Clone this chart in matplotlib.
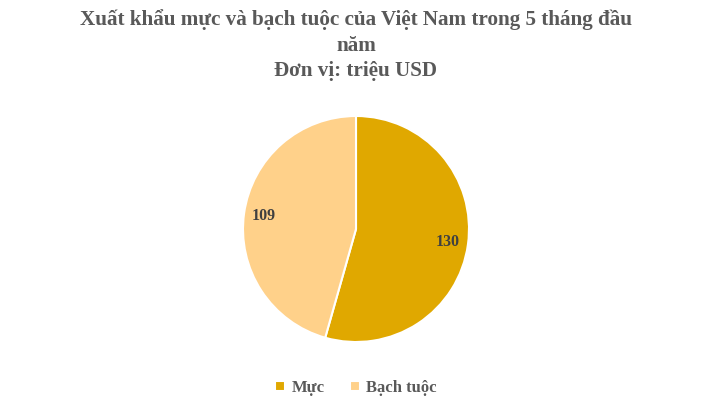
import matplotlib.pyplot as plt

categories = ["Mực", "Bạch tuộc"]
values = [130, 109]
colors = ["#E0A800", "#FFD18A"]
title = "Xuất khẩu mực và bạch tuộc của Việt Nam trong 5 tháng đầu\nnăm\nĐơn vị: triệu USD"

plt.rcParams["font.family"] = ["Liberation Serif", "DejaVu Serif"]
gray = "#595959"

fig = plt.figure(figsize=(7.12, 4.04), dpi=100)

# pie axes: center (356, 229), radius ~113 px
r = 113
cx, cy = 356, 229
pax = fig.add_axes([(cx - r) / 712, 1 - (cy + r) / 404, 2 * r / 712, 2 * r / 404])
wedges, texts = pax.pie(values, colors=colors, startangle=90, counterclock=False,
                        labels=[str(v) for v in values], labeldistance=0.82,
                        wedgeprops=dict(edgecolor="white", linewidth=1.5),
                        textprops=dict(fontsize=11.5, fontweight="bold", color="#404040"))
for t in texts:
    t.set_ha("center")
    t.set_va("center")
pax.set_xlim(-1, 1)
pax.set_ylim(-1, 1)
pax.set_aspect("equal")

fig.text(0.5, 1 - 9 / 404, title, ha="center", va="top", fontsize=15.2,
         fontweight="bold", color=gray, linespacing=1.38)

leg = fig.legend(wedges, categories, loc="center", bbox_to_anchor=(0.5, 1 - 388 / 404),
                 ncol=2, frameon=False, handlelength=0.6, handleheight=0.6,
                 handletextpad=0.4, columnspacing=1.5,
                 prop=dict(size=12, weight="bold"))
for t in leg.get_texts():
    t.set_color(gray)

fig.savefig("out.png", dpi=100)
